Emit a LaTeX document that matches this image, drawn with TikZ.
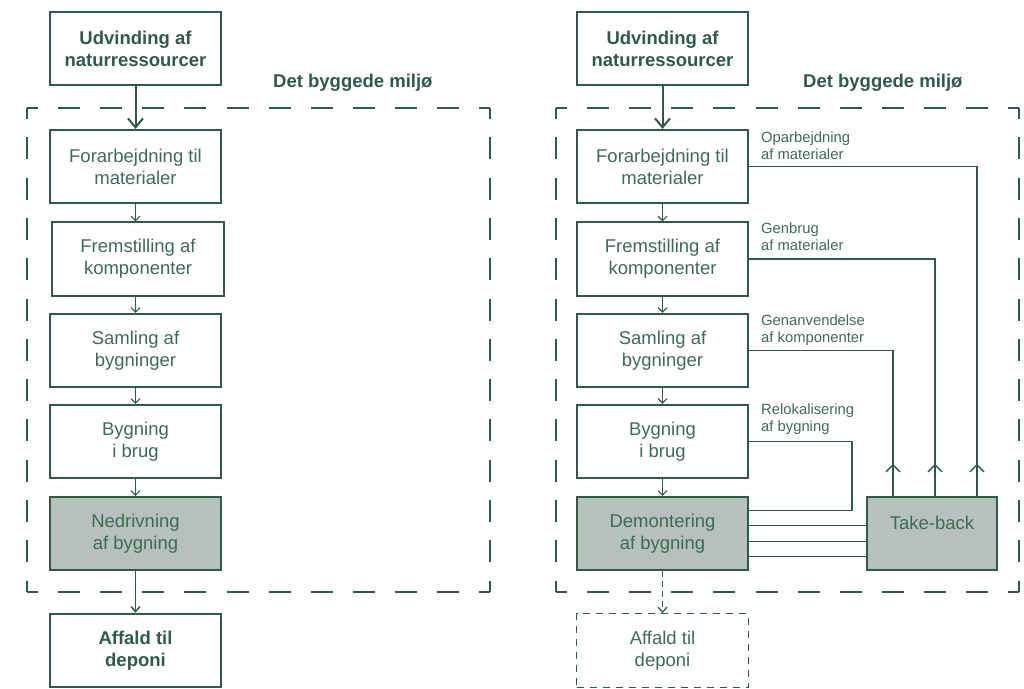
\documentclass[tikz,border=0pt]{standalone}
\usepackage{fontspec}
\setmainfont{Liberation Sans}
\usetikzlibrary{arrows.meta,calc}
\definecolor{dg}{HTML}{2E5A47}
\definecolor{tg}{HTML}{3E6A57}
\definecolor{fillg}{HTML}{B6C1BC}
\begin{document}
\begin{tikzpicture}[x=1pt,y=-1pt,
  box/.style={draw=dg, line width=1.6pt, minimum width=171.5pt, minimum height=73.5pt, inner sep=0pt,
    align=center, text=tg, font=\fontsize{18.5}{22}\selectfont},
  boldbox/.style={box, line width=2.2pt, text=dg, font=\fontsize{18.5}{22}\selectfont\bfseries},
  filledbox/.style={box, fill=fillg},
  dashbox/.style={box, dash pattern=on 7pt off 6pt, line width=1.4pt},
  lbl/.style={inner sep=0pt, align=left, text=tg, font=\fontsize{14.8}{17}\selectfont},
  title/.style={inner sep=0pt, text=dg, font=\fontsize{18.5}{22}\selectfont\bfseries},
  conn/.style={draw=dg, line width=1.3pt},
  bigarrow/.style={draw=dg, line width=2pt, -{Straight Barb[length=9pt,width=15pt]}},
  smallarrow/.style={draw=dg, line width=1.2pt, -{Straight Barb[length=4.5pt,width=9pt]}},
  midarrow/.style={draw=dg, line width=1.5pt, -{Straight Barb[length=5pt,width=9pt]}},
  uparrow/.style={draw=dg, line width=1.4pt, -{Straight Barb[length=7pt,width=14pt]}},
  dasharrow/.style={draw=dg, line width=1.3pt, dash pattern=on 6pt off 4pt, -{Straight Barb[length=5pt,width=9pt]}},
  hside/.style={draw=dg, line width=2pt, dash pattern=on 22pt off 20.1pt, dash phase=11pt},
  vside/.style={draw=dg, line width=2pt, dash pattern=on 22pt off 18.3pt, dash phase=11pt}
]
\useasboundingbox (0,0) rectangle (1024,688);

% ---------- left panel ----------
\draw[hside] (27,108) -- (490,108);
\draw[hside] (27,592) -- (490,592);
\draw[vside] (27,108) -- (27,592);
\draw[vside] (490,108) -- (490,592);
\node[title, anchor=base west] (T1) at (273,87) {Det byggede miljø};

\node[boldbox] (Lu) at (135.5,48.5) {Udvinding af\\naturressourcer};
\node[box] (L1) at (135.5,166.5) {Forarbejdning til\\materialer};
\node[box] (L2) at (138,259) {Fremstilling af\\komponenter};
\node[box] (L3) at (135.5,350.5) {Samling af\\bygninger};
\node[box] (L4) at (135.5,441.5) {Bygning\\i brug};
\node[filledbox] (L5) at (135.5,533.5) {Nedrivning\\af bygning};
\node[boldbox] (L6) at (135.5,650.5) {Affald til\\deponi};

\draw[bigarrow] (Lu) -- (L1);
\draw[smallarrow] (L1.south) -- (L1.south |- L2.north);
\draw[smallarrow] (L3.north |- L2.south) -- (L3.north);
\draw[smallarrow] (L3) -- (L4);
\draw[smallarrow] (L4) -- (L5);
\draw[midarrow] (L5) -- (L6);

% ---------- right panel ----------
\draw[hside] (556,108) -- (1019,108);
\draw[hside] (556,592) -- (1019,592);
\draw[vside] (556,108) -- (556,592);
\draw[vside] (1019,108) -- (1019,592);
\node[title, anchor=base west] (T2) at (803,87) {Det byggede miljø};

\node[boldbox] (Ru) at (662.5,48.5) {Udvinding af\\naturressourcer};
\node[box] (R1) at (662.5,166.5) {Forarbejdning til\\materialer};
\node[box] (R2) at (662.5,259) {Fremstilling af\\komponenter};
\node[box] (R3) at (662.5,350.5) {Samling af\\bygninger};
\node[box] (R4) at (662.5,441.5) {Bygning\\i brug};
\node[filledbox] (R5) at (662.5,533.5) {Demontering\\af bygning};
\node[dashbox] (R6) at (662.5,650.5) {Affald til\\deponi};

\node[filledbox, minimum width=130.5pt] (tb) at (932,533.5) {};
\node[anchor=base, inner sep=0pt, text=tg, font=\fontsize{18.5}{22}\selectfont] (tbl) at (932,529) {Take-back};

\draw[bigarrow] (Ru) -- (R1);
\draw[smallarrow] (R1) -- (R2);
\draw[smallarrow] (R2) -- (R3);
\draw[smallarrow] (R3) -- (R4);
\draw[smallarrow] (R4) -- (R5);
\draw[dasharrow] (R5) -- (R6);

\coordinate (X1) at (977,0);
\coordinate (X2) at (935,0);
\coordinate (X3) at (893,0);
\coordinate (K4) at (852,510.5);

\draw[conn] (R1.east) -| (tb.north -| X1);
\draw[conn] (R2.east) -| (tb.north -| X2);
\draw[conn] (R3.east) -| (tb.north -| X3);
\draw[conn] (R4.east) -| (K4) -- (R5.east |- K4);

\draw[uparrow] (tb.north -| X1) -- ++(0,-32);
\draw[uparrow] (tb.north -| X2) -- ++(0,-32);
\draw[uparrow] (tb.north -| X3) -- ++(0,-32);

\draw[conn] ([yshift=7.7pt]R5.east) -- ([yshift=7.7pt]R5.east -| tb.west);
\draw[conn] ([yshift=-7.7pt]R5.east) -- ([yshift=-7.7pt]R5.east -| tb.west);
\draw[conn] ([yshift=-23pt]R5.east) -- ([yshift=-23pt]R5.east -| tb.west);

\node[lbl, anchor=north west] (lab1) at (761,132) {Oparbejdning\\af materialer};
\node[lbl, anchor=north west] (lab2) at (761,223) {Genbrug\\af materialer};
\node[lbl, anchor=north west] (lab3) at (761,315) {Genanvendelse\\af komponenter};
\node[lbl, anchor=north west] (lab4) at (761,404) {Relokalisering\\af bygning};
\end{tikzpicture}
\end{document}
